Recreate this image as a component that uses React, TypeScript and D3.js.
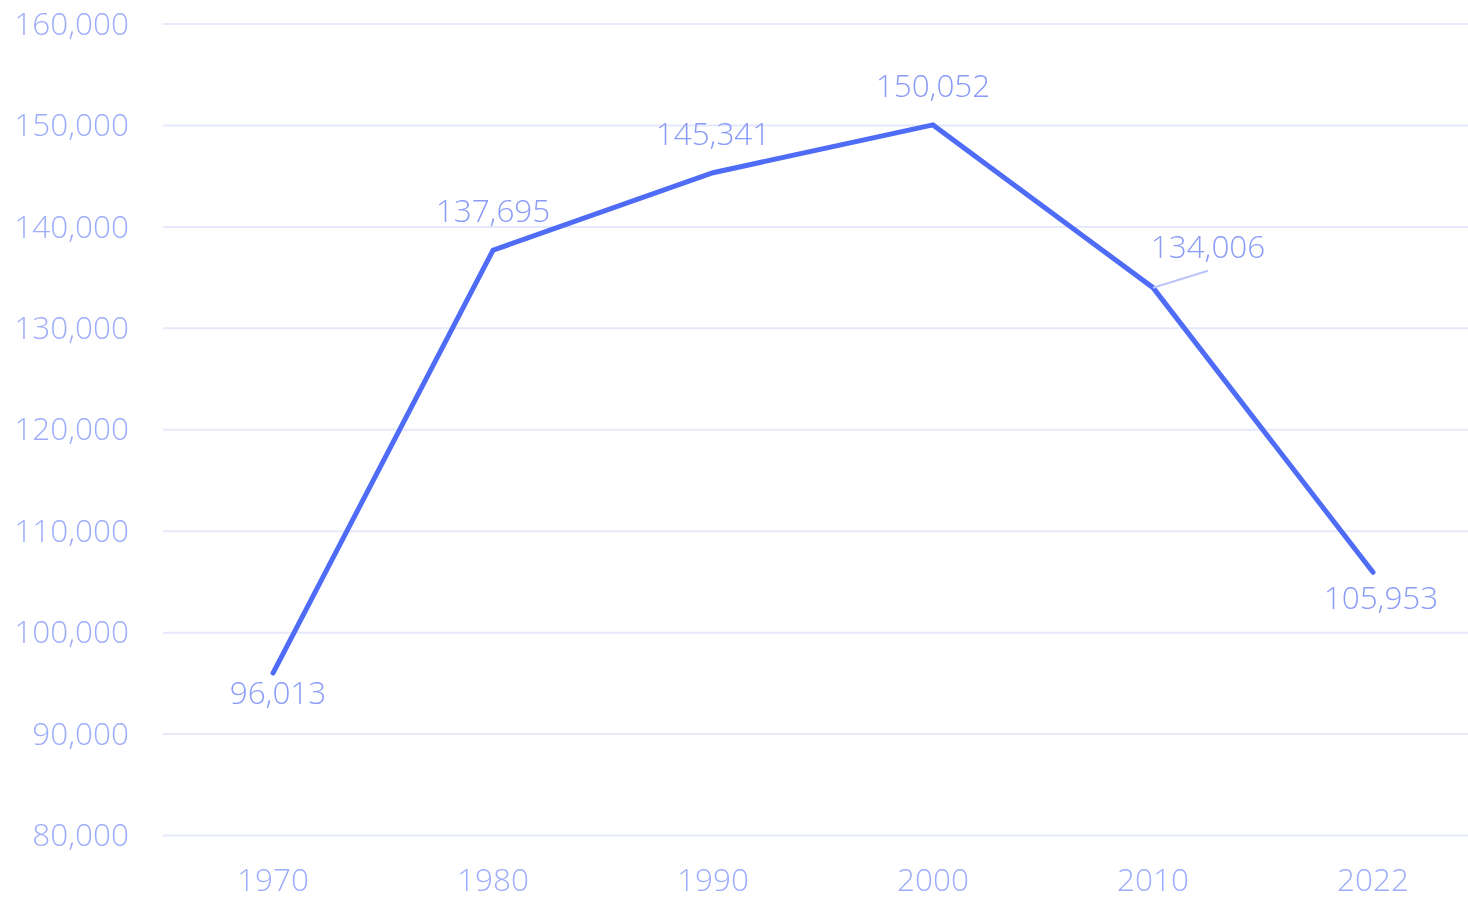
import React from "react"
import * as d3 from "d3"

const years = ["1970", "1980", "1990", "2000", "2010", "2022"]
const population = [96013, 137695, 145341, 150052, 134006, 105953]
const yTicks = [80000, 90000, 100000, 110000, 120000, 130000, 140000, 150000, 160000]
// where each value label sits relative to its point
const labelPlacement = ["below", "above", "above", "above", "leader", "below"]

const width = 1468
const height = 899
const margin = { top: 24, right: -15, bottom: 63.5, left: 163 }

const fontFamily = "'Open Sans', 'Noto Sans', sans-serif"
const fontSize = 31.5
const tickColor = "#9eadfa"
const labelColor = "#8a9bf8"
const lineColor = "#4f6cf7"
const gridColor = "#e6e9fb"

const App: React.FC = () => {
  const x = d3
    .scaleBand<string>()
    .domain(years)
    .range([margin.left, width - margin.right])
  const y = d3
    .scaleLinear()
    .domain([80000, 160000])
    .range([height - margin.bottom, margin.top])

  const cx = (i: number) => (x(years[i]) ?? 0) + x.bandwidth() / 2
  const fmt = d3.format(",")

  const line = d3
    .line<number>()
    .x((_, i) => cx(i))
    .y((d) => y(d))

  return (
    <div style={{ position: "fixed", left: 0, top: 0 }}>
      <svg width={width} height={height} style={{ display: "block" }} fontFamily={fontFamily}>
        {yTicks.map((t) => (
          <g key={t}>
            <line x1={margin.left} x2={width} y1={y(t)} y2={y(t)} stroke={gridColor} strokeWidth={2} />
            <text
              x={129}
              y={y(t)}
              dy="0.34em"
              textAnchor="end"
              fontSize={fontSize}
              fontWeight={300}
              fill={tickColor}
            >
              {fmt(t)}
            </text>
          </g>
        ))}

        {years.map((yr, i) => (
          <text
            key={yr}
            x={cx(i)}
            y={891}
            textAnchor="middle"
            fontSize={fontSize}
            fontWeight={300}
            fill={tickColor}
          >
            {yr}
          </text>
        ))}

        <path
          d={line(population) ?? ""}
          fill="none"
          stroke={lineColor}
          strokeWidth={5}
          strokeLinecap="round"
          strokeLinejoin="miter"
        />

        {population.map((v, i) => {
          const px = cx(i)
          const py = y(v)
          const place = labelPlacement[i]
          if (place === "leader") {
            return (
              <g key={i}>
                <line x1={px} y1={py} x2={px + 55} y2={py - 17} stroke="#bcc5fa" strokeWidth={2} />
                <text
                  x={px + 55}
                  y={py - 30}
                  textAnchor="middle"
                  fontSize={fontSize}
                  fontWeight={300}
                  fill={labelColor}
                >
                  {fmt(v)}
                </text>
              </g>
            )
          }
          const above = place === "above"
          const dx = above ? 0 : i === 0 ? 5 : 8
          const dy = above ? -28 : i === 0 ? 31 : 37
          return (
            <text
              key={i}
              x={px + dx}
              y={py + dy}
              textAnchor="middle"
              fontSize={fontSize}
              fontWeight={300}
              fill={labelColor}
            >
              {fmt(v)}
            </text>
          )
        })}
      </svg>
    </div>
  )
}

export default App
